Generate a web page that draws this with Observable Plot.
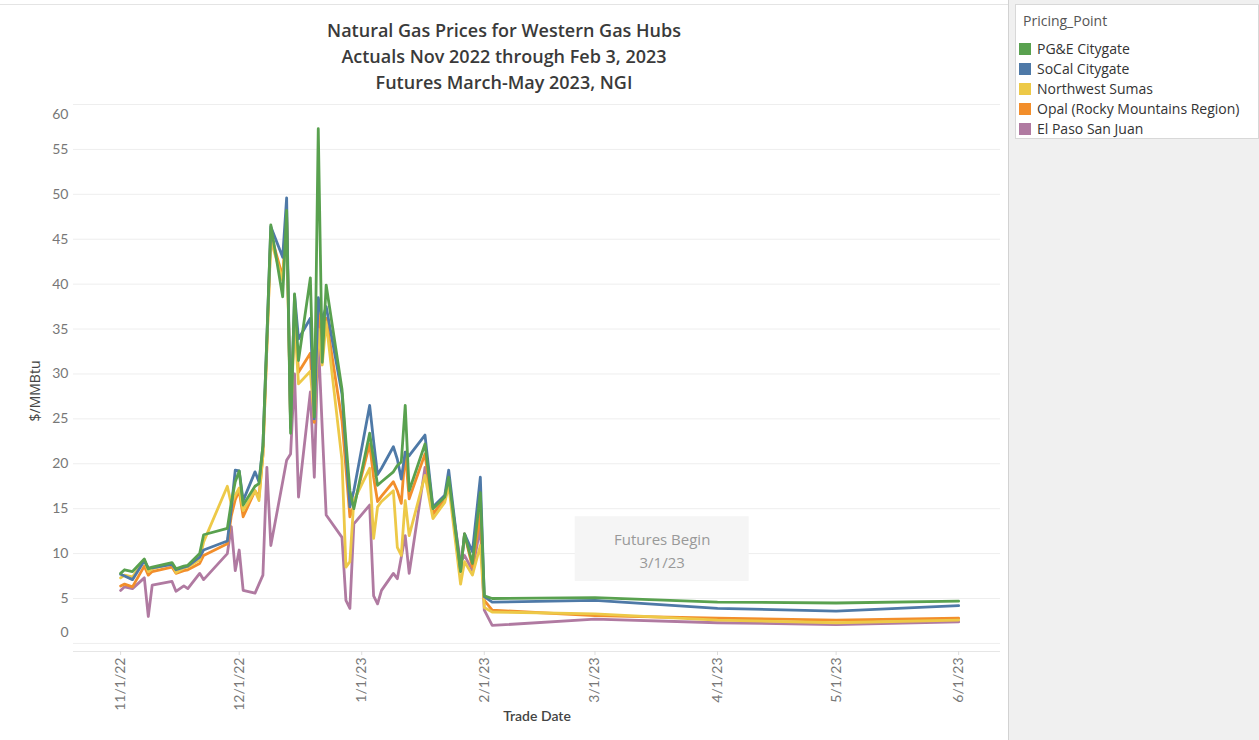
<!DOCTYPE html>
<html>
<head>
<meta charset="utf-8">
<script src="https://cdn.jsdelivr.net/npm/d3@7"></script>
<script src="https://cdn.jsdelivr.net/npm/@observablehq/plot@0.6"></script>
<style>
  body { margin: 0; background: #fff; font-family: "Open Sans", Lato, sans-serif; }
  #wrap { position: relative; width: 1259px; height: 740px; overflow: hidden; background: #fff; }
  #chart { position: absolute; left: 0; top: 0; }
  #topline { position: absolute; left: 0; top: 4px; width: 1008px; border-top: 1px solid #e4e4e4; }
  #title { position: absolute; left: 0; top: 17px; width: 1008px; text-align: center; font-size: 18px; line-height: 26px; color: #3a3a3a; font-weight: 600; }
  #side { position: absolute; left: 1008px; top: 0; width: 251px; height: 740px; background: #f0f0f0; border-left: 1px solid #d2d2d2; box-sizing: border-box; }
  #legend { position: absolute; left: 1015px; top: 4px; width: 244px; height: 135px; background: #fff; border: 1px solid #d8d8d8; box-sizing: border-box; }
  #legend .head { position: absolute; left: 7px; top: 6px; font-size: 14px; color: #555; }
  #legend .item { position: absolute; left: 3px; height: 20px; line-height: 20px; font-size: 14px; color: #333; white-space: nowrap; }
  #legend .sw { display: inline-block; width: 12px; height: 12px; vertical-align: -1px; margin-right: 6px; }
</style>
</head>
<body>
<div id="wrap">
  <div id="topline"></div>
  <div id="chart"></div>
  <div id="title">Natural Gas Prices for Western Gas Hubs<br>Actuals Nov 2022 through Feb 3, 2023<br>Futures March-May 2023, NGI</div>
  <div id="side"></div>
  <div id="legend"><div class="head">Pricing_Point</div></div>
</div>
<script>
// ---- data ----
const dates = [
  "2022-11-01","2022-11-02","2022-11-04","2022-11-07","2022-11-08","2022-11-09","2022-11-14","2022-11-15",
  "2022-11-17","2022-11-18","2022-11-21","2022-11-22","2022-11-28","2022-11-29","2022-11-30","2022-12-01",
  "2022-12-02","2022-12-05","2022-12-06","2022-12-07","2022-12-08","2022-12-09","2022-12-12","2022-12-13",
  "2022-12-14","2022-12-15","2022-12-16","2022-12-19","2022-12-20","2022-12-21","2022-12-22","2022-12-23",
  "2022-12-27","2022-12-28","2022-12-29","2022-12-30","2023-01-03","2023-01-04","2023-01-05","2023-01-06",
  "2023-01-09","2023-01-10","2023-01-11","2023-01-12","2023-01-13","2023-01-17","2023-01-19","2023-01-22",
  "2023-01-23","2023-01-26","2023-01-27","2023-01-29","2023-01-31","2023-02-01","2023-02-03",
  "2023-03-01","2023-04-01","2023-05-01","2023-06-01"
];
const pgeCitygate = [
  7.8, 8.2, 8.0, 9.4, 8.3, 8.5, 9.0, 8.3, 8.6, 8.7, 10.0, 12.1, 12.8, 15.7, 18.0, 19.2,
  15.4, 17.5, 17.8, 22.0, 34.0, 46.6, 38.6, 48.2, 23.4, 38.9, 31.5, 40.7, 25.2, 57.3, 31.3, 39.9,
  28.3, 22.5, 17.0, 15.0, 23.4, 20.5, 17.6, 18.0, 19.1, 19.8, 20.2, 26.5, 17.0, 22.2, 15.0, 16.3,
  18.5, 8.0, 12.2, 8.9, 16.8, 5.3, 5.0, 5.1, 4.6, 4.5, 4.7
];
const socalCitygate = [
  7.7, 7.5, 7.1, 9.2, 8.4, 8.4, 8.8, 8.2, 8.5, 8.6, 9.6, 10.4, 11.4, 15.0, 19.3, 19.2,
  15.9, 19.1, 18.0, 22.0, 34.0, 46.4, 43.0, 49.6, 24.0, 38.8, 33.9, 36.2, 25.0, 38.5, 36.0, 37.5,
  27.8, 21.5, 15.2, 17.0, 26.5, 22.5, 18.8, 19.5, 21.9, 20.5, 18.3, 21.3, 20.9, 23.2, 15.2, 16.5,
  19.3, 8.1, 12.2, 10.2, 18.5, 5.2, 4.6, 4.8, 3.9, 3.6, 4.2
];
const northwestSumas = [
  7.3, 7.6, 7.4, 9.3, 8.0, 8.3, 8.9, 7.9, 8.4, 8.5, 9.3, 11.3, 17.5, 15.5, 16.5, 17.3,
  14.8, 17.0, 15.9, 21.0, 33.0, 44.9, 40.4, 47.0, 24.5, 36.0, 28.9, 30.3, 25.0, 35.0, 31.0, 35.8,
  20.4, 8.5, 9.1, 15.9, 19.5, 11.7, 15.2, 15.8, 17.0, 10.7, 9.8, 15.9, 12.0, 18.7, 13.9, 15.7,
  17.6, 6.6, 9.1, 7.6, 10.9, 4.0, 3.5, 3.3, 2.6, 2.3, 2.6
];
const opalRockies = [
  6.4, 6.6, 6.3, 8.6, 7.6, 8.0, 8.5, 7.8, 8.1, 8.2, 8.9, 9.8, 11.1, 14.2, 16.0, 17.0,
  14.1, 17.0, 16.3, 21.0, 33.0, 45.5, 40.8, 47.5, 24.5, 37.0, 30.2, 32.3, 24.6, 37.0, 33.0, 36.2,
  24.8, 19.5, 14.1, 15.3, 22.2, 18.5, 15.8, 16.4, 18.0, 17.0, 15.6, 21.3, 16.1, 21.1, 14.4, 16.1,
  18.2, 8.0, 12.2, 8.5, 14.5, 4.8, 3.7, 3.1, 2.8, 2.6, 2.8
];
const elPasoSanJuan = [
  5.9, 6.3, 6.1, 7.3, 3.0, 6.5, 6.9, 5.8, 6.4, 6.1, 7.8, 7.1, 10.0, 13.0, 8.1, 10.4,
  5.9, 5.6, 6.6, 7.6, 19.6, 10.9, 18.0, 20.4, 21.1, 30.0, 16.3, 28.0, 18.5, 34.0, 24.0, 14.3,
  11.8, 4.8, 3.9, 13.3, 15.4, 5.3, 4.4, 5.9, 7.8, 7.2, 9.6, 12.0, 7.8, 19.6, 14.4, 16.0,
  17.8, 9.0, 9.8, 8.1, 13.0, 3.7, 2.0, 2.7, 2.3, 2.1, 2.4
];
const seriesNames = ["PG&E Citygate", "SoCal Citygate", "Northwest Sumas", "Opal (Rocky Mountains Region)", "El Paso San Juan"];
const seriesColors = ["#59a14f", "#4e79a7", "#edc948", "#f28e2b", "#b07aa1"];
const seriesValues = [pgeCitygate, socalCitygate, northwestSumas, opalRockies, elPasoSanJuan];
const xTicks = ["2022-11-01","2022-12-01","2023-01-01","2023-02-01","2023-03-01","2023-04-01","2023-05-01","2023-06-01"];
const yTicks = [5, 10, 15, 20, 25, 30, 35, 40, 45, 50, 55];
const xDomain = ["2022-10-20T02:00", "2023-06-11T14:00"];
const yDomain = [-0.9, 60];
const annotationText = ["Futures Begin\n3/1/23"];
const annotationAt = ["2023-03-18", 10.5];
const annotationBox = ["2023-02-24", "2023-04-09", 6.9, 14.1];

// ---- build ----
const parse = s => new Date(s + (s.length === 10 ? "T00:00Z" : "Z"));
const rows = [];
// draw order: last legend entry first so PG&E ends on top
for (let s = seriesNames.length - 1; s >= 0; s--) {
  dates.forEach((d, i) => rows.push({date: parse(d), value: seriesValues[s][i], series: seriesNames[s]}));
}
const fmt = d => `${d.getUTCMonth() + 1}/${d.getUTCDate()}/${String(d.getUTCFullYear()).slice(2)}`;

const chart = Plot.plot({
  width: 1008,
  height: 740,
  marginLeft: 73,
  marginRight: 8,
  marginTop: 104,
  marginBottom: 89,
  style: {fontFamily: "Lato, 'Open Sans', sans-serif", fontSize: "14px", background: "transparent"},
  x: {type: "utc", domain: xDomain.map(parse)},
  y: {type: "linear", domain: yDomain},
  color: {domain: seriesNames, range: seriesColors},
  marks: [
    Plot.ruleY([0, ...yTicks, 60], {stroke: "#eeeeee", strokeWidth: 1}),
    Plot.ruleY([yDomain[0]], {stroke: "#e6e6e6"}),
    Plot.rect([annotationBox], {x1: d => parse(d[0]), x2: d => parse(d[1]), y1: d => d[2], y2: d => d[3], fill: "#f5f5f5"}),
    Plot.text(annotationText, {x: () => parse(annotationAt[0]), y: () => annotationAt[1], text: d => d, fill: "#999999", fontSize: 15, lineHeight: 1.55, fontFamily: "'Open Sans', sans-serif"}),
    Plot.line(rows, {x: "date", y: "value", z: "series", stroke: "series", strokeWidth: 2.8, strokeLinejoin: "round"}),
    Plot.axisY(yTicks, {tickSize: 0, tickPadding: 5, fontSize: 14, color: "#777", label: null}),
    Plot.axisY([60], {tickSize: 0, tickPadding: 5, fontSize: 14, color: "#777", label: null, dy: 10}),
    Plot.axisY([0], {tickSize: 0, tickPadding: 5, fontSize: 14, color: "#777", label: null, dy: -11}),
    Plot.axisX(xTicks.map(parse), {tickSize: 4, tickPadding: 2, tickRotate: -90, fontSize: 14, color: "#777", stroke: "#dddddd", tickFormat: fmt, label: null}),
    Plot.text(["$/MMBtu"], {frameAnchor: "left", text: d => d, rotate: -90, textAnchor: "middle", dx: -38, dy: 13, fill: "#444", fontSize: 14, fontFamily: "'Open Sans', sans-serif"}),
    Plot.text(["Trade Date"], {frameAnchor: "bottom", text: d => d, dy: 69, fill: "#444", fontSize: 14, fontWeight: 600})
  ]
});
document.getElementById("chart").appendChild(chart);

// legend
const legend = document.getElementById("legend");
seriesNames.forEach((name, i) => {
  const el = document.createElement("div");
  el.className = "item";
  el.style.top = (34 + i * 20) + "px";
  const sw = document.createElement("span");
  sw.className = "sw";
  sw.style.background = seriesColors[i];
  el.appendChild(sw);
  el.appendChild(document.createTextNode(name));
  legend.appendChild(el);
});
</script>
</body>
</html>
